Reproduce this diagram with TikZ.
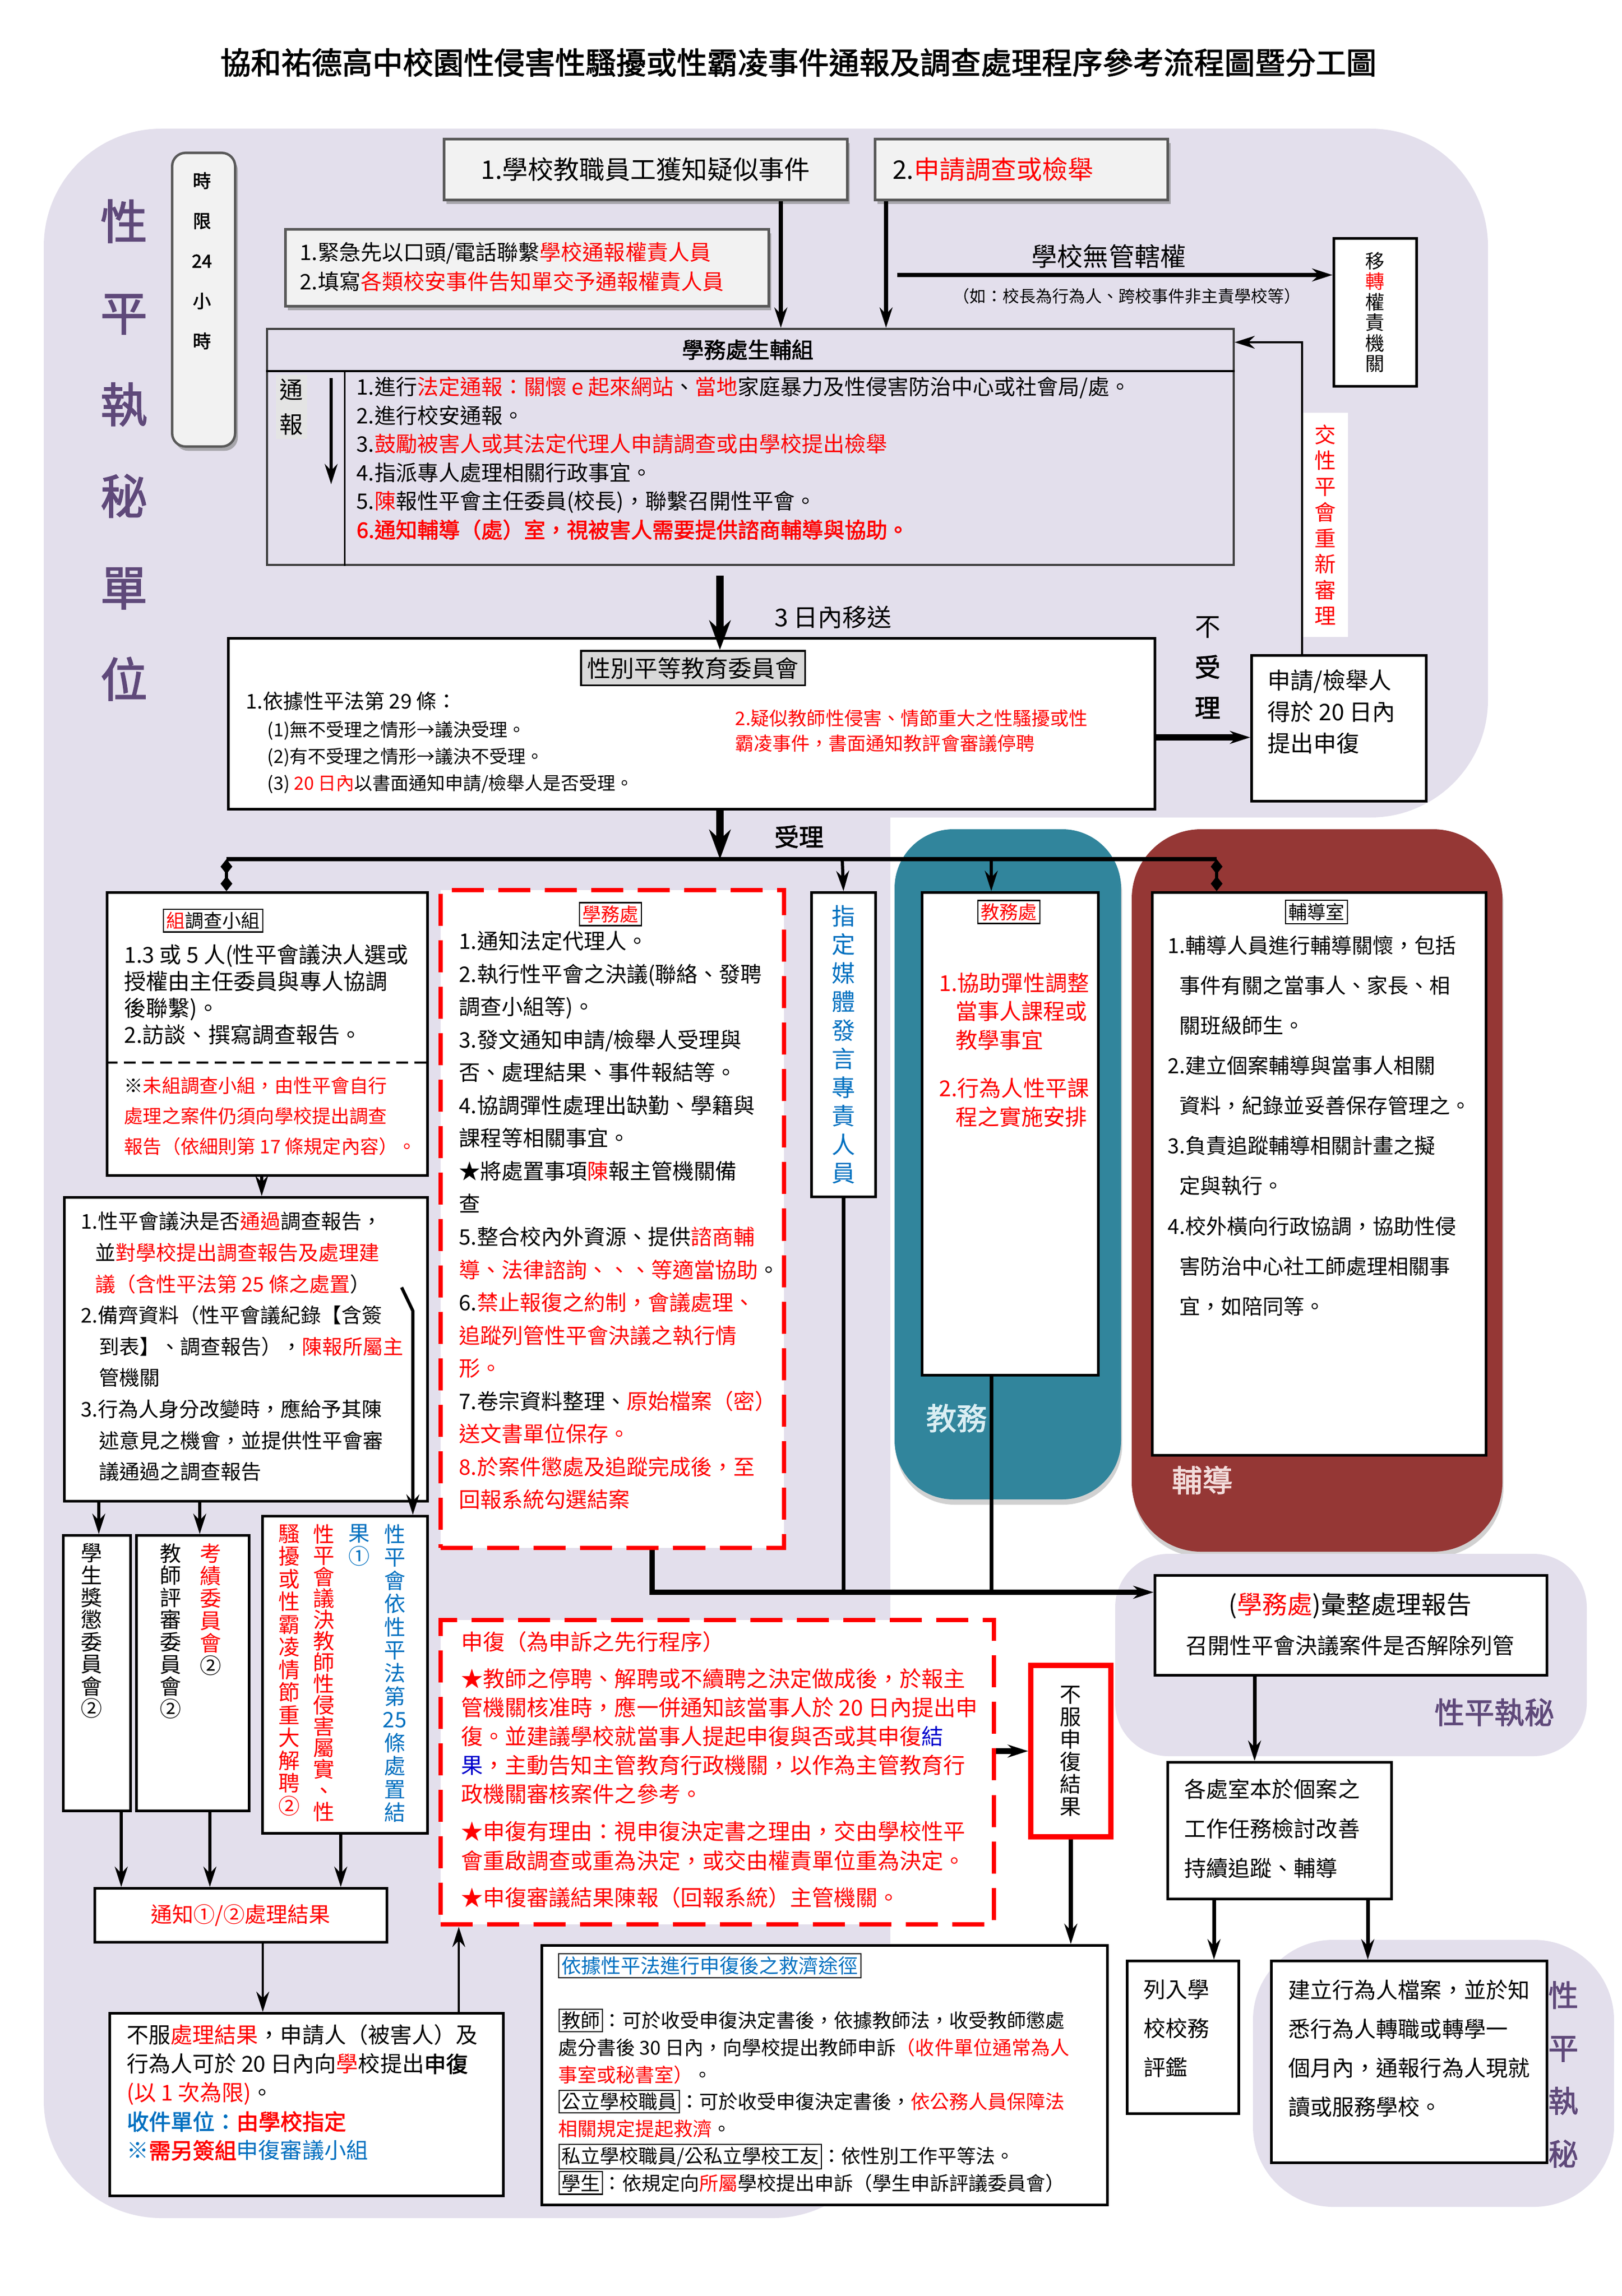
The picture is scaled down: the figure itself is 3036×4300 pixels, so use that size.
\documentclass[tikz,border=0pt]{standalone}
\usepackage{fontspec}
\setmainfont{Noto Sans CJK TC}[AutoFakeBold=2]
\usetikzlibrary{positioning,arrows.meta,shadows}
\definecolor{bgPurple}{HTML}{E3DFEC}
\definecolor{boxGrey}{HTML}{F2F2F2}
\definecolor{headGrey}{HTML}{D9D9D9}
\definecolor{tealBox}{HTML}{31859C}
\definecolor{maroonBox}{HTML}{953735}
\definecolor{unitPurple}{HTML}{5F497A}
\definecolor{infoBlue}{HTML}{0070C0}
\definecolor{darkBlue}{HTML}{0000CC}
\definecolor{lightCyan}{HTML}{DAEEF3}
\definecolor{lightPink}{HTML}{F2DCDB}
\newcommand{\fs}[2]{\fontsize{#1pt}{#2pt}\selectfont}
\newcommand{\rtxt}[1]{\textcolor{red}{#1}}
\newcommand{\btxt}[1]{\textcolor{infoBlue}{#1}}
\newcommand{\wordbox}[1]{{\setlength{\fboxsep}{1pt}\setlength{\fboxrule}{0.6pt}\fbox{#1}}}
\ExplSyntaxOn
\seq_new:N \l_vstack_seq
\NewDocumentCommand{\vstack}{m}
  {
    \seq_clear:N \l_vstack_seq
    \tl_map_inline:nn {#1} { \seq_put_right:Nn \l_vstack_seq {##1} }
    \seq_use:Nn \l_vstack_seq { \\ }
  }
\ExplSyntaxOff
\tikzset{
    whiteBox/.style={draw, line width=1.3pt, fill=white, inner sep=0pt, anchor=north west},
    greyBox/.style={draw=black!65, fill=boxGrey, line width=1.3pt, inner sep=0pt, anchor=north west,
        drop shadow={shadow xshift=0.05cm, shadow yshift=-0.08cm, fill=black!50, opacity=0.6}},
    redDash/.style={draw=red, line width=2.4pt, dash pattern=on 0.6cm off 0.27cm, fill=white, inner sep=0pt, anchor=north west},
    labelTag/.style={draw, line width=0.6pt, fill=white, inner sep=1.5pt, font=\fs{9.96}{12}},
    textBlock/.style={inner sep=0pt, align=left, anchor=north west},
    vertCol/.style={inner sep=0pt, align=center},
    flowArrow/.style={-{Stealth[length=0.38cm, width=0.24cm]}, line width=1.7pt},
    bigArrow/.style={-{Stealth[length=0.55cm, width=0.4cm]}, line width=4pt},
    busEnd/.style={{Diamond[length=0.28cm, width=0.22cm]}-{Diamond[length=0.28cm, width=0.22cm]}, line width=1.8pt},
    boxSize/.style 2 args={minimum width=#1*0.01cm, minimum height=#2*0.01cm},
}
\begin{document}
\begin{tikzpicture}[x=0.01cm, y=-0.01cm]
\useasboundingbox (0,0) rectangle (3036,4300);
% background areas
\fill[bgPurple, rounded corners=2.2cm] (82,241) rectangle (2786,1531);
\fill[bgPurple, rounded corners=2.2cm] (82,1000) rectangle (1667,4154);
\fill[tealBox, rounded corners=1.1cm, drop shadow={shadow xshift=0.02cm, shadow yshift=-0.1cm, fill=gray!60, opacity=0.6}] (1675,1553) rectangle (2099,2808);
\fill[maroonBox, rounded corners=1.3cm, drop shadow={shadow xshift=0.02cm, shadow yshift=-0.1cm, fill=gray!60, opacity=0.6}] (2119,1553) rectangle (2813,2906);
\fill[bgPurple, rounded corners=1cm] (2088,2910) rectangle (2971,3289);
\fill[bgPurple, rounded corners=1.5cm] (2346,3633) rectangle (3022,4133);

\node[font=\bfseries\fs{16.2}{20}] (title) at (1495,117) {協和祐德高中校園性侵害性騷擾或性霸凌事件通報及調查處理程序參考流程圖暨分工圖};

% left labels
\node[vertCol, text=unitPurple, font=\bfseries\fs{25.04}{48.77}] (unitLbl) at (232,843) {\vstack{性平執秘單位}};
\node[greyBox, rounded corners=0.25cm, boxSize={118}{550}] (limit) at (320,284) {};
\node[vertCol, anchor=north, font=\bfseries\fs{9.67}{21.34}] (limitT) at (378,322) {\vstack{時限{24}小時}};

% top boxes
\node[greyBox, boxSize={755}{114}, font=\fs{13.66}{16}] (report) at (829,258) {1.學校教職員工獲知疑似事件};
\node[greyBox, boxSize={548}{114}, font=\fs{13.66}{16}, text width=4.82cm, align=left, inner xsep=0.33cm] (apply) at (1636,258) {2.\rtxt{申請調查或檢舉}};
\node[greyBox, boxSize={905}{144}] (urgent) at (532,427) {};
\node[textBlock, font=\fs{11.38}{15.65}] (urgentT) at (561,453) {1.緊急先以口頭/電話聯繫\rtxt{學校通報權責人員}\\2.填寫\rtxt{各類校安事件告知單交予通報權責人員}};
\node[font=\fs{13.66}{16}] (njLbl) at (2076,480) {學校無管轄權};
\node[font=\fs{8.82}{10}] (njSub) at (2110,555) {（如：校長為行為人、跨校事件非主責學校等）};
\node[whiteBox, boxSize={155}{277}, vertCol, font=\fs{10.24}{10.93}] (xfer) at (2495,444) {\vstack{移{\rtxt{轉}}權責機關}};

% student affairs unit
\node[draw=black!75, line width=1pt, boxSize={1810}{442}, anchor=north west] (sfb) at (498,614) {};
\draw[line width=1pt] ([yshift=-0.81cm]sfb.north west) -- ([yshift=-0.81cm]sfb.north east);
\draw[line width=0.8pt] ([xshift=1.47cm, yshift=-0.81cm]sfb.north west) -- ([xshift=1.47cm]sfb.south west);
\node[font=\bfseries\fs{11.67}{14}] (sfbH) at (1400,655) {學務處生輔組};
\node[vertCol, fill=headGrey!70, inner sep=2pt, font=\fs{12.52}{18.5}] (tongbao) at (546,762) {\vstack{通報}};
\node[textBlock, font=\fs{11.38}{15.22}] (sfbT) at (667,705) {1.進行\rtxt{法定通報：關懷 e 起來網站}、\rtxt{當地}家庭暴力及性侵害防治中心或社會局/處。\\2.進行校安通報。\\3.\rtxt{鼓勵被害人或其法定代理人申請調查或由學校提出檢舉}\\4.指派專人處理相關行政事宜。\\5.\rtxt{陳}報性平會主任委員(校長)，聯繫召開性平會。\\\textcolor{red}{\bfseries 6.通知輔導（處）室，視被害人需要提供諮商輔導與協助。}};

% committee
\node[whiteBox, line width=1.5pt, boxSize={1735}{320}] (cmt) at (425,1193) {};
\node[draw, line width=1pt, fill=headGrey, boxSize={415}{63}, anchor=north west, font=\fs{12.52}{14}] (cmtH) at (1086,1217) {性別平等教育委員會};
\node[textBlock, font=\fs{10.81}{13}] (cmtL1) at (460,1295) {1.依據性平法第 29 條：};
\node[textBlock, font=\fs{9.67}{14.2}] (cmtL2) at (500,1350) {(1)無不受理之情形→議決受理。\\(2)有不受理之情形→議決不受理。\\(3) \rtxt{20 日內}以書面通知申請/檢舉人是否受理。};
\node[textBlock, text=red, font=\fs{9.96}{13.4}] (cmtR) at (1376,1328) {2.疑似教師性侵害、情節重大之性騷擾或性\\霸凌事件，書面通知教評會審議停聘};
\node[font=\fs{13.09}{15}] (lbl3) at (1560,1156) {3 日內移送};
\node[vertCol, font=\fs{13.66}{21.62}] (rejLbl) at (2261,1250) {不\\\textbf{受}\\\textbf{理}};
\node[whiteBox, boxSize={327}{273}] (rej) at (2341,1225) {};
\node[textBlock, font=\fs{12.23}{16.79}] (rejT) at (2373,1253) {申請/檢舉人\\得於 20 日內\\提出申復};
\node[fill=white, boxSize={85}{420}, vertCol, text=red, font=\fs{11.38}{13.8}] (redoLbl) at (2481,983) {\vstack{交性平會重新審理}};
\node[font=\bfseries\fs{13.09}{15}] (lblAcc) at (1496,1567) {受理};

% investigation column
\node[whiteBox, boxSize={600}{530}] (inv) at (198,1669) {};
\draw[line width=1.2pt, dash pattern=on 0.22cm off 0.12cm] ([yshift=-3.21cm]inv.north west) -- ([yshift=-3.21cm]inv.north east);
\node[labelTag] (invH) at (399,1724) {\rtxt{組}調查小組};
\node[textBlock, font=\fs{11.67}{14.23}] (invT) at (232,1768) {1.3 或 5 人(性平會議決人選或\\授權由主任委員與專人協調\\後聯繫)。\\2.訪談、撰寫調查報告。};
\node[textBlock, font=\fs{10}{16.22}] (invN) at (232,2016) {※\rtxt{未組調查小組，由性平會自行}\\\rtxt{處理之案件仍須向學校提出調查}\\\rtxt{報告（依細則第 17 條規定內容）。}};
\node[whiteBox, boxSize={680}{569}] (dec) at (118,2240) {};
\node[textBlock, font=\fs{10.8}{16.67}] (decT) at (151,2269) {1.性平會議決是否\rtxt{通過}調查報告，\\\hspace*{0.7em}並\rtxt{對學校提出調查報告及處理建}\\\hspace*{0.7em}\rtxt{議（含性平法第 25 條之處置}）\\2.備齊資料（性平會議紀錄【含簽\\\hspace*{0.9em}到表】、調查報告），\rtxt{陳報所屬主}\\\hspace*{0.9em}管機關\\3.行為人身分改變時，應給予其陳\\\hspace*{0.9em}述意見之機會，並提供性平會審\\\hspace*{0.9em}議通過之調查報告};
\node[whiteBox, boxSize={126}{516}] (stu) at (116,2873) {};
\node[vertCol, anchor=north, font=\fs{11.38}{11.81}] (stuT) at (172,2890) {\vstack{學生獎懲委員會②}};
\node[whiteBox, boxSize={211}{516}] (tea) at (253,2873) {};
\node[vertCol, anchor=north, text=red, font=\fs{11.38}{11.95}] (teaR) at (395,2890) {\vstack{考績委員會{\textcolor{black}{②}}}};
\node[vertCol, anchor=north, font=\fs{11.38}{11.81}] (teaL) at (320,2890) {\vstack{教師評審委員會②}};
\node[whiteBox, boxSize={309}{594}] (res) at (489,2837) {};
\node[vertCol, anchor=north, text=infoBlue, font=\fs{11.38}{12.35}] (resC1) at (739,2854) {\vstack{性平會依性平法第{25}條處置結}};
\node[vertCol, anchor=north, text=infoBlue, font=\fs{11.38}{12.35}] (resC2) at (672,2854) {\vstack{果①}};
\node[vertCol, anchor=north, text=red, font=\fs{11.38}{11.38}] (resC3) at (607,2854) {\vstack{性平會議決教師性侵害屬實、性}};
\node[vertCol, anchor=north, text=red, font=\fs{11.38}{12.09}] (resC4) at (542,2854) {\vstack{騷擾或性霸凌情節重大解聘②}};
\node[whiteBox, boxSize={547}{101}, text=red, font=\fs{11.38}{14}] (notify) at (175,3534) {通知①/②處理結果};
\node[whiteBox, boxSize={737}{342}] (obj) at (203,3768) {};
\node[textBlock, font=\fs{11.67}{15.36}] (objT) at (237,3791) {不服\rtxt{處理結果}，申請人（被害人）及\\行為人可於 20 日內向\rtxt{學}校提出\textbf{申復}\\\rtxt{(以 1 次為限)}。\\\textcolor{infoBlue}{\bfseries 收件單位：}\textcolor{red}{\bfseries 由學校指定}\\\btxt{※}\textcolor{red}{\bfseries 需另簽組}\btxt{申復審議小組}};

% student affairs office column
\node[redDash, boxSize={643}{1232}] (sw) at (821,1663) {};
\node[labelTag, text=red] (swH) at (1143,1712) {學務處};
\node[textBlock, font=\fs{11.38}{17.5}] (swT) at (859,1743) {1.通知法定代理人。\\2.執行性平會之決議(聯絡、發聘\\調查小組等)。\\3.發文通知申請/檢舉人受理與\\否、處理結果、事件報結等。\\4.協調彈性處理出缺勤、學籍與\\課程等相關事宜。\\★將處置事項\rtxt{陳}報主管機關備\\查\\5.整合校內外資源、提供\rtxt{諮商輔}\\\rtxt{導、法律諮詢、、、等適當協助}。\\6.\rtxt{禁止報復之約制，會議處理、}\\\rtxt{追蹤列管性平會決議之執行情}\\\rtxt{形。}\\7.卷宗資料整理、\rtxt{原始檔案（密）}\\\rtxt{送文書單位保存。}\\\rtxt{8.於案件懲處及追蹤完成後，至}\\\rtxt{回報系統勾選結案}};
\node[whiteBox, boxSize={120}{570}, vertCol, text=infoBlue, font=\fs{12.52}{15.22}] (med) at (1517,1669) {\vstack{指定媒體發言專責人員}};

% academic affairs and counseling
\node[whiteBox, boxSize={330}{904}] (jw) at (1724,1669) {};
\node[labelTag, text=red] (jwH) at (1889,1708) {教務處};
\node[textBlock, text=red, font=\fs{11.67}{15.22}] (jwT) at (1758,1821) {1.協助彈性調整\\\hspace*{0.75em}當事人課程或\\\hspace*{0.75em}教學事宜\\[0.37cm]2.行為人性平課\\\hspace*{0.75em}程之實施安排};
\node[text=lightCyan, font=\bfseries\fs{16.22}{18}] (jwLbl) at (1791,2656) {教務};
\node[whiteBox, boxSize={625}{1054}] (cns) at (2155,1669) {};
\node[labelTag] (cnsH) at (2465,1708) {輔導室};
\node[textBlock, font=\fs{11.1}{21.34}] (cnsT) at (2186,1752) {1.輔導人員進行輔導關懷，包括\\\hspace*{0.55em}事件有關之當事人、家長、相\\\hspace*{0.55em}關班級師生。\\2.建立個案輔導與當事人相關\\\hspace*{0.55em}資料，紀錄並妥善保存管理之。\\3.負責追蹤輔導相關計畫之擬\\\hspace*{0.55em}定與執行。\\4.校外橫向行政協調，協助性侵\\\hspace*{0.55em}害防治中心社工師處理相關事\\\hspace*{0.55em}宜，如陪同等。};
\node[text=lightPink, font=\bfseries\fs{16.22}{18}] (cnsLbl) at (2251,2772) {輔導};

% appeal
\node[redDash, boxSize={1036}{570}] (apl) at (821,3030) {};
\node[textBlock, text=red, font=\fs{11.67}{15.36}] (aplT) at (863,3055) {申復（為申訴之先行程序）\\[0.15cm]★教師之停聘、解聘或不續聘之決定做成後，於報主\\管機關核准時，應一併通知該當事人於 20 日內提出申\\復。並建議學校就當事人提起申復與否或其申復\textcolor{darkBlue}{結}\\\textcolor{darkBlue}{果}，主動告知主管教育行政機關，以作為主管教育行\\政機關審核案件之參考。\\[0.16cm]★申復有理由：視申復決定書之理由，交由學校性平\\會重啟調查或重為決定，或交由權責單位重為決定。\\[0.15cm]★申復審議結果陳報（回報系統）主管機關。};
\node[draw=red, line width=2.8pt, fill=white, boxSize={150}{321}, anchor=north west, vertCol, font=\fs{11.38}{11.95}] (nres) at (1925,3114) {\vstack{不服申復結果}};
\node[whiteBox, boxSize={1059}{486}] (rem) at (1012,3641) {};
\node[draw, line width=0.6pt, fill=white, text=infoBlue, inner sep=1.5pt, anchor=north west, font=\fs{10.53}{12}] (remH) at (1045,3658) {依據性平法進行申復後之救濟途徑};
\node[textBlock, font=\fs{10.24}{14.43}] (remT) at (1045,3761) {\wordbox{教師}：可於收受申復決定書後，依據教師法，收受教師懲處\\處分書後 30 日內，向學校提出教師申訴\rtxt{（收件單位通常為人}\\\rtxt{事室或秘書室）}。\\\wordbox{公立學校職員}：可於收受申復決定書後，\rtxt{依公務人員保障法}\\\rtxt{相關規定提起救濟}。\\\wordbox{私立學校職員/公私立學校工友}：依性別工作平等法。\\\wordbox{學生}：依規定向\rtxt{所屬}學校提出申訴（學生申訴評議委員會）};

% follow-up
\node[whiteBox, boxSize={734}{187}] (rep) at (2160,2948) {};
\node[font=\fs{13.37}{16}] (repT1) at (2528,3007) {(\rtxt{學務處})彙整處理報告};
\node[font=\fs{11.67}{14}] (repT2) at (2528,3082) {召開性平會決議案件是否解除列管};
\node[text=unitPurple, font=\bfseries\fs{15.93}{18}] (secLbl1) at (2798,3207) {性平執秘};
\node[whiteBox, boxSize={419}{256}] (each) at (2184,3298) {};
\node[textBlock, font=\fs{11.67}{21}] (eachT) at (2217,3331) {各處室本於個案之\\工作任務檢討改善\\持續追蹤、輔導};
\node[whiteBox, boxSize={209}{286}] (evalBox) at (2108,3670) {};
\node[textBlock, font=\fs{11.67}{20.77}] (evalT) at (2141,3707) {列入學\\校校務\\評鑑};
\node[whiteBox, boxSize={516}{378}] (fileBox) at (2378,3670) {};
\node[textBlock, font=\fs{11.67}{20.77}] (fileT) at (2412,3707) {建立行為人檔案，並於知\\悉行為人轉職或轉學一\\個月內，通報行為人現就\\讀或服務學校。};
\node[vertCol, text=unitPurple, font=\bfseries\fs{15.93}{28.17}] (secLbl2) at (2927,3885) {\vstack{性平執秘}};

% connectors
\coordinate (repDown) at (1462,372);
\coordinate (appDown) at (1659,372);
\coordinate (njStart) at (1680,515);
\coordinate (tbTop) at (620,708);
\coordinate (tbBot) at (620,907);
\coordinate (mainDown) at (1348,1078);
\coordinate (rejArr) at (2200,1381);
\coordinate (redoTurn) at (2438,641);
\coordinate (busL) at (424,1609);
\coordinate (busR) at (2278,1609);
\coordinate (medDrop) at (1577,1609);
\coordinate (jwDrop) at (1856,1609);
\coordinate (invDown) at (490,2199);
\coordinate (stuIn) at (185,2809);
\coordinate (teaIn) at (374,2809);
\coordinate (resFrom) at (752,2411);
\coordinate (resBend) at (773,2455);
\coordinate (stuOut) at (227,3389);
\coordinate (teaOut) at (393,3389);
\coordinate (resOut) at (638,3431);
\coordinate (notifyDown) at (492,3635);
\coordinate (objUp) at (859,3768);
\coordinate (bus2) at (1221,2982);
\coordinate (jwLine) at (1856,2573);
\coordinate (repDown2) at (2349,3135);
\coordinate (eachL) at (2273,3554);
\coordinate (eachR) at (2561,3554);

\draw[flowArrow, line width=2.5pt] (report.south -| repDown) -- (sfb.north -| repDown);
\draw[flowArrow, line width=2.5pt] (apply.south -| appDown) -- (sfb.north -| appDown);
\draw[flowArrow, line width=2.3pt] (njStart) -- (njStart -| xfer.west);
\draw[flowArrow, line width=1.6pt] (tbTop) -- (tbBot);
\draw[bigArrow] (mainDown) -- (mainDown |- cmtH.north);
\draw[flowArrow, line width=3.2pt] (cmt.east |- rejArr) -- (rej.west |- rejArr);
\draw[flowArrow, line width=1.3pt] (rej.north -| redoTurn) -- (redoTurn) -- (redoTurn -| sfb.east);
\draw[bigArrow] (cmt.south -| mainDown) -- (mainDown |- busL);
\draw[line width=2.2pt] (busL) -- (busR);
\draw[busEnd] (busL) -- (inv.north -| busL);
\draw[busEnd] (busR) -- (cns.north -| busR);
\draw[flowArrow] (medDrop) -- (med.north);
\draw[flowArrow] (jwDrop) -- (jw.north -| jwDrop);
\draw[flowArrow] (inv.south -| invDown) -- (dec.north -| invDown);
\draw[flowArrow] (dec.south -| stuIn) -- (stu.north -| stuIn);
\draw[flowArrow] (dec.south -| teaIn) -- (tea.north -| teaIn);
\draw[flowArrow] (resFrom) -- (resBend) -- (res.north -| resBend);
\draw[flowArrow] (stu.south -| stuOut) -- (notify.north -| stuOut);
\draw[flowArrow] (tea.south -| teaOut) -- (notify.north -| teaOut);
\draw[flowArrow] (res.south -| resOut) -- (notify.north -| resOut);
\draw[flowArrow, line width=1.3pt] (notify.south -| notifyDown) -- (obj.north -| notifyDown);
\draw[flowArrow, line width=1.3pt] (obj.north -| objUp) -- (apl.south -| objUp);
\draw[flowArrow, line width=3pt] (apl.east |- nres.west) -- (nres.west);
\draw[flowArrow, line width=2.2pt] (nres.south) -- (rem.north -| nres.south);
\draw[flowArrow, line width=3pt] (sw.south -| bus2) -- (bus2) -- (bus2 -| rep.west);
\draw[line width=2pt] (med.south) -- (med.south |- bus2);
\draw[line width=2pt] (jw.south -| jwLine) -- (jwLine |- bus2);
\draw[flowArrow, line width=2pt] (rep.south -| repDown2) -- (each.north -| repDown2);
\draw[flowArrow, line width=2pt] (each.south -| eachL) -- (evalBox.north -| eachL);
\draw[flowArrow, line width=2pt] (each.south -| eachR) -- (fileBox.north -| eachR);
\end{tikzpicture}
\end{document}
